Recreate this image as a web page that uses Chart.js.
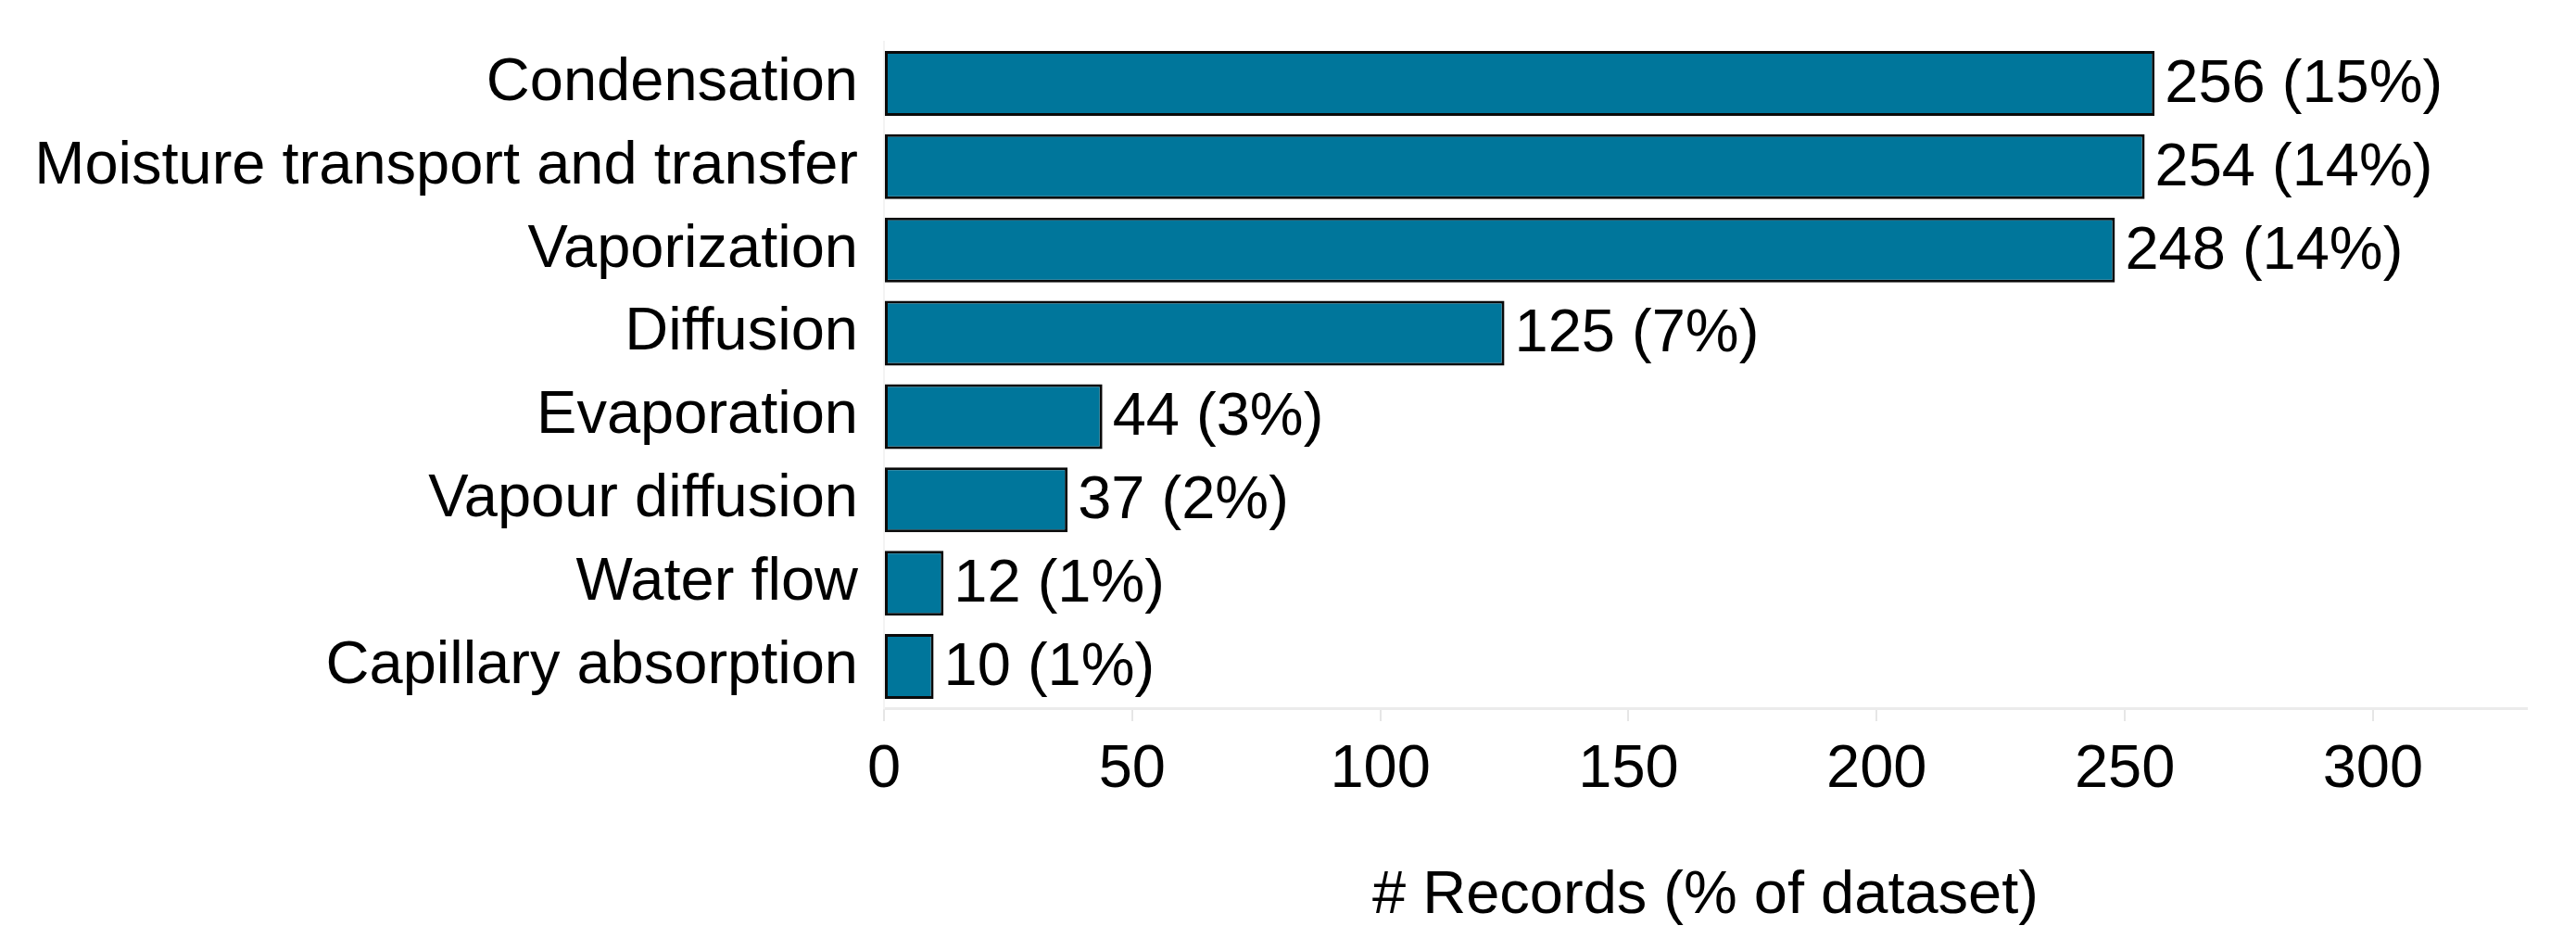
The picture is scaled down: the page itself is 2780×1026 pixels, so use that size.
<!DOCTYPE html>
<html>
<head>
<meta charset="utf-8">
<script src="https://cdn.jsdelivr.net/npm/chart.js@4"></script>
<style>
  body { margin: 0; background: #ffffff; }
  #wrap { width: 2780px; height: 1026px; }
</style>
</head>
<body>
<div id="wrap"><canvas id="records-chart" width="2780" height="1026"></canvas></div>
<script>
// data
let categories = ["Condensation", "Moisture transport and transfer", "Vaporization", "Diffusion",
	"Evaporation", "Vapour diffusion", "Water flow", "Capillary absorption"];
let recordCounts = [256, 254, 248, 125, 44, 37, 12, 10];
let recordShares = [15, 14, 14, 7, 3, 2, 1, 1];
let xTicks = [0, 50, 100, 150, 200, 250, 300];

const fontFamily = "'Liberation Sans', Arial, sans-serif";

// draws "n (p%)" to the right of each bar
const valueLabels = {
	id: "valueLabels",
	afterDatasetsDraw(chart) {
		let ctx = chart.ctx;
		let meta = chart.getDatasetMeta(0);
		ctx.save();
		ctx.font = "65px " + fontFamily;
		ctx.fillStyle = "#000000";
		ctx.textAlign = "left";
		ctx.textBaseline = "middle";
		meta.data.forEach(function (bar, i) {
			ctx.fillText(`${recordCounts[i]} (${recordShares[i]}%)`, bar.x + 11, bar.y + 2);
		});
		ctx.restore();
	},
};

const data = {
	labels: categories,
	datasets: [
		{
			data: recordCounts,
			backgroundColor: "#00769b",
			borderColor: "#0a0a0a",
			borderWidth: 3,
			borderSkipped: false,
			barPercentage: 0.78,
			categoryPercentage: 1,
		},
	],
};

const chartConfig = {
	type: "bar",
	data: data,
	plugins: [valueLabels],
	options: {
		indexAxis: "y",
		responsive: false,
		animation: false,
		layout: {
			padding: { top: 45, right: 53, bottom: 6, left: 0 },
		},
		plugins: {
			legend: { display: false },
			tooltip: { enabled: false },
		},
		scales: {
			x: {
				min: 0,
				max: 331,
				afterBuildTicks(scale) {
					scale.ticks = xTicks.map(function (v) { return { value: v }; });
				},
				grid: {
					display: true,
					drawOnChartArea: false,
					drawTicks: true,
					tickLength: 14,
					color: "#e6e6e6",
					lineWidth: 2,
				},
				border: { display: true, color: "#ebebeb", width: 3 },
				ticks: {
					padding: 14,
					color: "#000000",
					font: { family: fontFamily, size: 65 },
				},
				title: {
					display: true,
					text: "# Records (% of dataset)",
					color: "#000000",
					font: { family: fontFamily, size: 65 },
					padding: { top: 44, bottom: 14 },
				},
			},
			y: {
				afterFit(scale) {
					scale.width = 954;
					// labels sit between bars, so no extra room needed above/below
					scale.paddingTop = 0;
					scale.paddingBottom = 0;
				},
				grid: { display: false, drawTicks: false },
				border: { display: true, color: "#f3f3f3", width: 2 },
				ticks: {
					padding: 28,
					color: "#000000",
					font: { family: fontFamily, size: 65 },
				},
			},
		},
	},
};

let recordsChart = new Chart(document.getElementById("records-chart"), chartConfig);
</script>
</body>
</html>
